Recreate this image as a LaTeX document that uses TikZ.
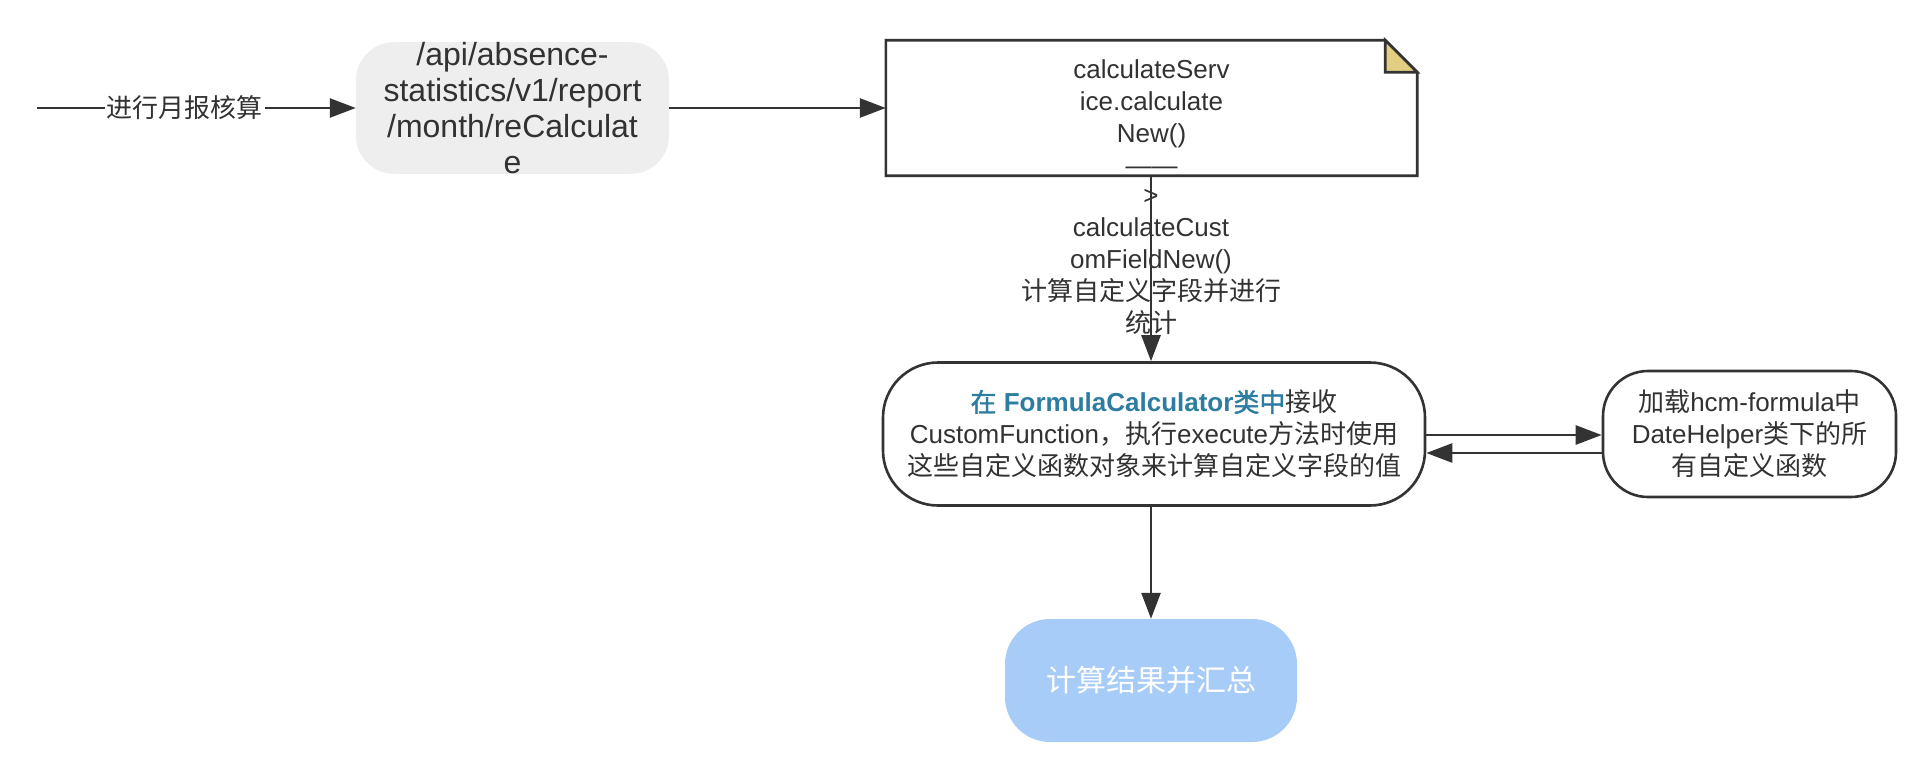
\documentclass[tikz,border=0pt]{standalone}
\usepackage{fontspec}
\setmainfont{Liberation Sans}
\newfontfamily\zh{Noto Sans CJK SC}
\newfontfamily\zhb{Noto Sans CJK SC}[FakeBold=1.5]
\usetikzlibrary{arrows.meta}
\definecolor{ln}{RGB}{51,51,51}
\definecolor{txt}{RGB}{50,50,50}
\definecolor{grayfill}{RGB}{238,238,238}
\definecolor{foldc}{RGB}{226,206,130}
\definecolor{blu}{RGB}{45,125,160}
\definecolor{endfill}{RGB}{168,204,248}
\newcommand\myfs[2]{\fontsize{#1}{#2}\selectfont}
\begin{document}
\begin{tikzpicture}[x=1pt,y=-1pt,
  conn/.style={draw=ln, line width=2.6pt, -{Triangle[length=26pt,width=19pt]}},
  txtnode/.style={inner sep=0pt, align=center, text=txt, font=\myfs{26}{32}},
  roundbox/.style={txtnode, draw=ln, line width=2.6pt, fill=white},
  notebox/.style={draw=ln, line width=2.6pt, fill=white, line join=miter}
]
\useasboundingbox (0,0) rectangle (1924,776);

% start
\coordinate (start) at (37,108);

% node 1
\node[txtnode, font=\myfs{32}{36}, fill=grayfill, rounded corners=38pt,
      minimum width=313pt, minimum height=131pt] (api) at (512.5,108)
  {/api/absence-\\statistics/v1/report\\/month/reCalculat\\e};

% note
\node[minimum width=531pt, minimum height=135pt, inner sep=0pt] (note) at (1151.5,108) {};
\draw[notebox] (note.north west) -- ([xshift=-32pt]note.north east)
  -- ([yshift=-32pt]note.north east) -- (note.south east) -- (note.south west) -- cycle;
\filldraw[fill=foldc, draw=ln, line width=2.6pt, line join=miter]
  ([xshift=-32pt]note.north east) -- ([xshift=-32pt,yshift=-32pt]note.north east)
  -- ([yshift=-32pt]note.north east) -- cycle;
\node[txtnode] (notetxt) at (1151.5,117) {calculateServ\\ice.calculate\\New()\\——};

% node 3
\node[roundbox, rounded corners=55pt, minimum width=542pt, minimum height=143pt] (calc) at (1154,434)
  {{\color{blu}{\zhb 在} \textbf{FormulaCalculator}{\zhb 类中}}{\zh 接收}\\
   CustomFunction{\zh ，执行}execute{\zh 方法时使用}\\
   {\zh 这些自定义函数对象来计算自定义字段的值}};

% node 4
\node[roundbox, rounded corners=45pt, minimum width=293pt, minimum height=126pt] (helper) at (1749.5,434)
  {{\zh 加载}hcm-formula{\zh 中}\\DateHelper{\zh 类下的所}\\{\zh 有自定义函数}};

% node 5
\node[txtnode, fill=endfill, rounded corners=45pt, minimum width=292pt, minimum height=123pt,
      text=white, font=\myfs{30}{34}] (result) at (1151,680.5)
  {{\zh 计算结果并汇总}};

% connectors
\draw[conn] (start) -- node[pos=0.464, fill=white, inner sep=2pt, text=txt, font=\myfs{26}{32}] (lbl1) {{\zh 进行月报核算}} (api.west);
\draw[conn] (api.east) -- (note.west);
\draw[conn] (note.south -| calc.north) ++(-3pt,0) coordinate (ns) -- (ns |- calc.north)
  node[pos=0.465, txtnode] (lbl2) {>\\calculateCust\\omFieldNew()\\{\zh 计算自定义字段并进行}\\{\zh 统计}};
\draw[conn] ([yshift=-1pt]calc.east) -- ([yshift=-1pt]helper.west);
\draw[conn] ([yshift=-19pt]helper.west) -- ([yshift=-19pt]calc.east);
\draw[conn] ([xshift=-3pt]calc.south) -- (result.north);
\end{tikzpicture}
\end{document}
